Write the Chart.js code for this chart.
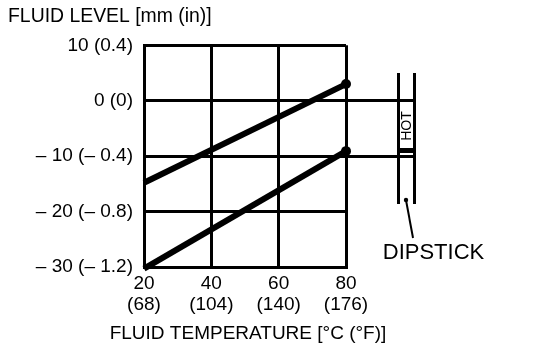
<!DOCTYPE html>
<html><head><meta charset="utf-8">
<style>html,body{margin:0;padding:0;background:#fff}#w{width:560px;height:354px;position:relative}</style>
<script src="https://cdn.jsdelivr.net/npm/chart.js@4"></script>
</head><body><div id="w"><canvas id="c" width="560" height="354"></canvas></div>
<script>
const xValues=[20,80];
const upperLevel=[-14.8,3];
const lowerLevel=[-30.3,-9.1];
const xTickLabels={20:['20','(68)'],40:['40','(104)'],60:['60','(140)'],80:['80','(176)']};
const yTickLabels={'10':'10 (0.4)','0':'0 (0)','-10':'– 10 (– 0.4)','-20':'– 20 (– 0.8)','-30':'– 30 (– 1.2)'};
const markedLevels=[0,-10];
const yTitle='FLUID LEVEL [mm (in)]';
const xTitle='FLUID TEMPERATURE [°C (°F)]';
const FONT='"Liberation Sans", Arial, sans-serif';
const toPts=a=>xValues.map((x,i)=>({x,y:a[i]}));
const dipstick={id:'dipstick',afterDraw(ch){
  const c=ch.ctx,y=ch.scales.y,a=ch.chartArea;c.save();c.strokeStyle='#000';c.fillStyle='#000';
  c.lineWidth=3;
  markedLevels.forEach(v=>{const p=y.getPixelForTick(y.ticks.findIndex(t=>t.value===v));const q=Math.floor(p)+.5;c.beginPath();c.moveTo(a.right,q);c.lineTo(415,q);c.stroke();});
  [398.5,414.5].forEach(x=>{c.beginPath();c.moveTo(x,73);c.lineTo(x,204);c.stroke();});
  c.fillRect(398,148,17,5);
  c.lineWidth=2;c.beginPath();c.moveTo(406,200);c.lineTo(413,238);c.stroke();
  c.beginPath();c.arc(406,200,2.2,0,7);c.fill();
  c.textBaseline='middle';c.textAlign='center';
  c.font='19px '+FONT;c.fillText(xTitle,248,334);
  c.font='22px '+FONT;c.fillText('DIPSTICK',433.5,253);
  c.translate(407,126);c.rotate(-Math.PI/2);c.font='14px '+FONT;c.fillText('HOT',0,0);
  c.restore();
}};
new Chart(document.getElementById('c'),{
 type:'line',
 data:{datasets:[upperLevel,lowerLevel].map(d=>({data:toPts(d),borderColor:'#000',backgroundColor:'#000',borderWidth:6,
   pointRadius:[0,5],pointHoverRadius:[0,5],pointBorderWidth:0,tension:0,clip:false}))},
 plugins:[dipstick],
 options:{responsive:false,animation:false,events:[],
  layout:{padding:{left:8,right:214,top:0,bottom:0}},
  plugins:{legend:{display:false},tooltip:{enabled:false},
   title:{display:true,text:yTitle,align:'start',color:'#000',font:{family:FONT,size:19.4,weight:'normal'},padding:{top:5,bottom:17}}},
  scales:{
   x:{type:'linear',min:20,max:80,
    afterFit(s){s.height=87;},
    grid:{color:'#000',lineWidth:3,drawTicks:false},border:{color:'#000',width:3},
    ticks:{stepSize:20,color:'#000',padding:6,maxRotation:0,font:{family:FONT,size:19,lineHeight:1.1},callback:v=>xTickLabels[v]}},
   y:{min:-30,max:10,
    afterFit(s){s.width=136;},
    grid:{color:'#000',lineWidth:3,drawTicks:false},border:{color:'#000',width:3},
    ticks:{stepSize:10,color:'#000',padding:11,font:{family:FONT,size:19},callback:v=>yTickLabels[v]}}
  }}
});
</script></body></html>
